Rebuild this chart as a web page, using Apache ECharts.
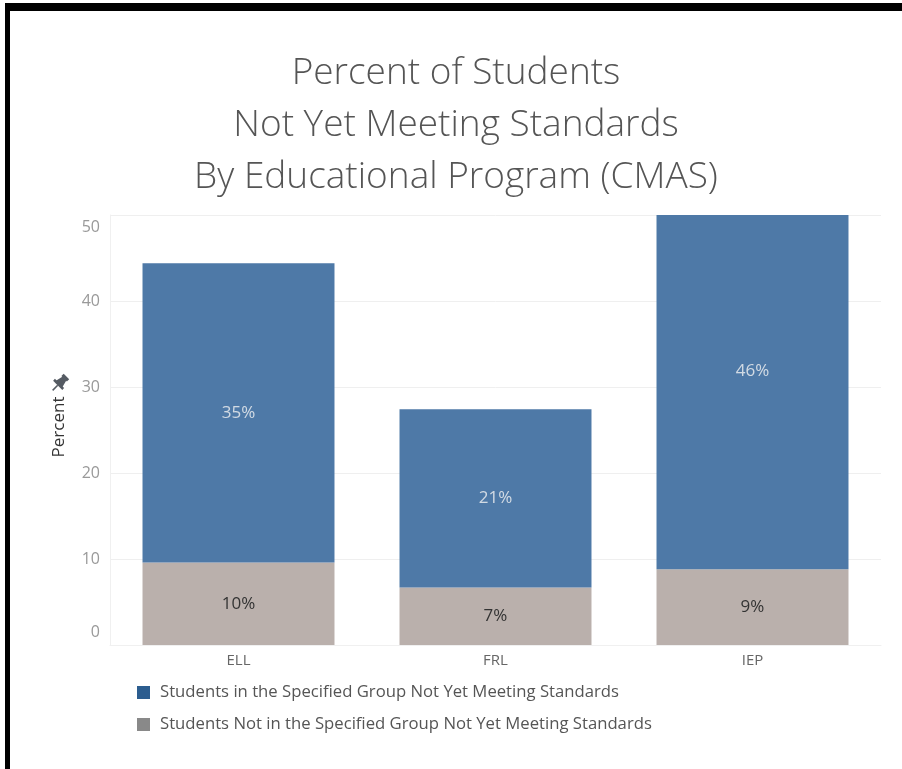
<!DOCTYPE html>
<html>
<head>
<meta charset="utf-8">
<title>Percent of Students Not Yet Meeting Standards</title>
<script src="https://cdn.jsdelivr.net/npm/echarts@6/dist/echarts.min.js"></script>
<style>
  html, body { margin: 0; padding: 0; background: #fff; }
  #chart { width: 902px; height: 769px; }
</style>
</head>
<body>
<div id="chart"></div>
<script>
// Educational programs on the x axis
const programs = ['ELL', 'FRL', 'IEP'];
// Percent of students in the specified group not yet meeting standards
const inGroup = [34.8, 20.7, 46.2];
// Percent of students not in the specified group not yet meeting standards
const notInGroup = [9.6, 6.7, 8.8];
// Value axis ticks
const yTicks = [0, 10, 20, 30, 40, 50];

const seriesNames = [
  'Students in the Specified Group Not Yet Meeting Standards',
  'Students Not in the Specified Group Not Yet Meeting Standards'
];

const FONT = '"Open Sans", "Noto Sans", sans-serif';
const pct = v => Math.round(v) + '%';

// Label anchors for the upper segment: middle of the full (unclipped) segment
const inGroupLabelPts = programs.map((p, i) => [p, notInGroup[i] + inGroup[i] / 2, inGroup[i]]);

const yMin = yTicks[0];
const yMax = yTicks[yTicks.length - 1];

const chart = echarts.init(document.getElementById('chart'), null, { renderer: 'canvas' });

chart.setOption({
  backgroundColor: '#ffffff',
  animation: false,
  textStyle: { fontFamily: FONT },
  title: {
    text: 'Percent of Students\nNot Yet Meeting Standards\nBy Educational Program (CMAS)',
    left: 456,
    top: 47,
    padding: 0,
    textAlign: 'center',
    textStyle: {
      fontFamily: FONT,
      fontSize: 37,
      fontWeight: 300,
      color: '#555555',
      lineHeight: 52
    }
  },
  legend: {
    orient: 'vertical',
    left: 132,
    top: 679,
    itemWidth: 13,
    itemHeight: 13,
    itemGap: 15,
    selectedMode: false,
    textStyle: { fontFamily: FONT, fontSize: 16.7, color: '#555555', padding: [0, 0, 0, 5] },
    data: [
      { name: seriesNames[0], icon: 'rect', itemStyle: { color: '#2c5d8f' } },
      { name: seriesNames[1], icon: 'rect', itemStyle: { color: '#898989' } }
    ]
  },
  grid: { left: 110, right: 21, top: 215, bottom: 124, containLabel: false },
  xAxis: {
    type: 'category',
    data: programs,
    axisLine: { show: true, lineStyle: { color: '#f0f0f0' } },
    axisTick: { show: false },
    axisLabel: { fontFamily: FONT, fontSize: 15, color: '#666666', margin: 8 }
  },
  yAxis: {
    type: 'value',
    min: yMin,
    max: yMax,
    interval: 10,
    name: 'Percent',
    nameLocation: 'middle',
    nameGap: 42,
    nameTextStyle: { fontFamily: FONT, fontSize: 17, color: '#333333', padding: [0, 0, 0, 6] },
    axisLine: { show: true, lineStyle: { color: '#f0f0f0' } },
    axisTick: { show: false },
    splitLine: { show: true, lineStyle: { color: '#efefef', width: 1 } },
    axisLabel: {
      fontFamily: FONT,
      fontSize: 16,
      color: '#999999',
      margin: 10,
      verticalAlignMaxLabel: 'top',
      verticalAlignMinLabel: 'bottom',
      formatter: v => v === yMax ? '{top|' + v + '}' : (v === yMin ? '{bot|' + v + '}' : String(v)),
      rich: {
        top: { fontFamily: FONT, fontSize: 16, color: '#999999', lineHeight: 24 },
        bot: { fontFamily: FONT, fontSize: 16, color: '#999999', lineHeight: 26 }
      }
    }
  },
  series: [
    {
      name: seriesNames[1],
      type: 'bar',
      stack: 'total',
      data: notInGroup,
      barWidth: '74.7%',
      itemStyle: { color: '#bab0ac' },
      label: {
        show: true,
        position: 'inside',
        fontFamily: FONT,
        fontSize: 17,
        color: '#333333',
        formatter: p => pct(p.value)
      }
    },
    {
      name: seriesNames[0],
      type: 'bar',
      stack: 'total',
      data: inGroup,
      barWidth: '74.7%',
      clip: true,
      itemStyle: { color: '#4e79a7' },
      label: { show: false }
    },
    {
      name: 'inGroupLabels',
      type: 'scatter',
      data: inGroupLabelPts,
      symbolSize: 1,
      itemStyle: { color: 'rgba(0,0,0,0)' },
      silent: true,
      z: 5,
      label: {
        show: true,
        position: 'inside',
        fontFamily: FONT,
        fontSize: 17,
        color: '#f2f2f2',
        formatter: p => pct(p.value[2])
      }
    }
  ],
  graphic: [
    // frame edges
    { type: 'rect', shape: { x: 5, y: 3, width: 5, height: 766 }, style: { fill: '#000' }, silent: true },
    { type: 'rect', shape: { x: 5, y: 3, width: 897, height: 8 }, style: { fill: '#000' }, silent: true },
    // pushpin beside the value-axis title
    {
      type: 'group',
      x: 60,
      y: 383,
      rotation: -Math.PI / 4,
      scaleX: 1.3,
      scaleY: 1.3,
      silent: true,
      children: [
        { type: 'rect', shape: { x: -3, y: -7, width: 6, height: 2.5 }, style: { fill: '#555b63' } },
        { type: 'polygon', shape: { points: [[-2, -5], [2, -5], [3.5, 1], [-3.5, 1]] }, style: { fill: '#555b63' } },
        { type: 'rect', shape: { x: -5, y: 0.5, width: 10, height: 2 }, style: { fill: '#555b63' } },
        { type: 'line', shape: { x1: 0, y1: 2.5, x2: 0, y2: 8 }, style: { stroke: '#555b63', lineWidth: 1.2 } }
      ]
    }
  ]
});
</script>
</body>
</html>
